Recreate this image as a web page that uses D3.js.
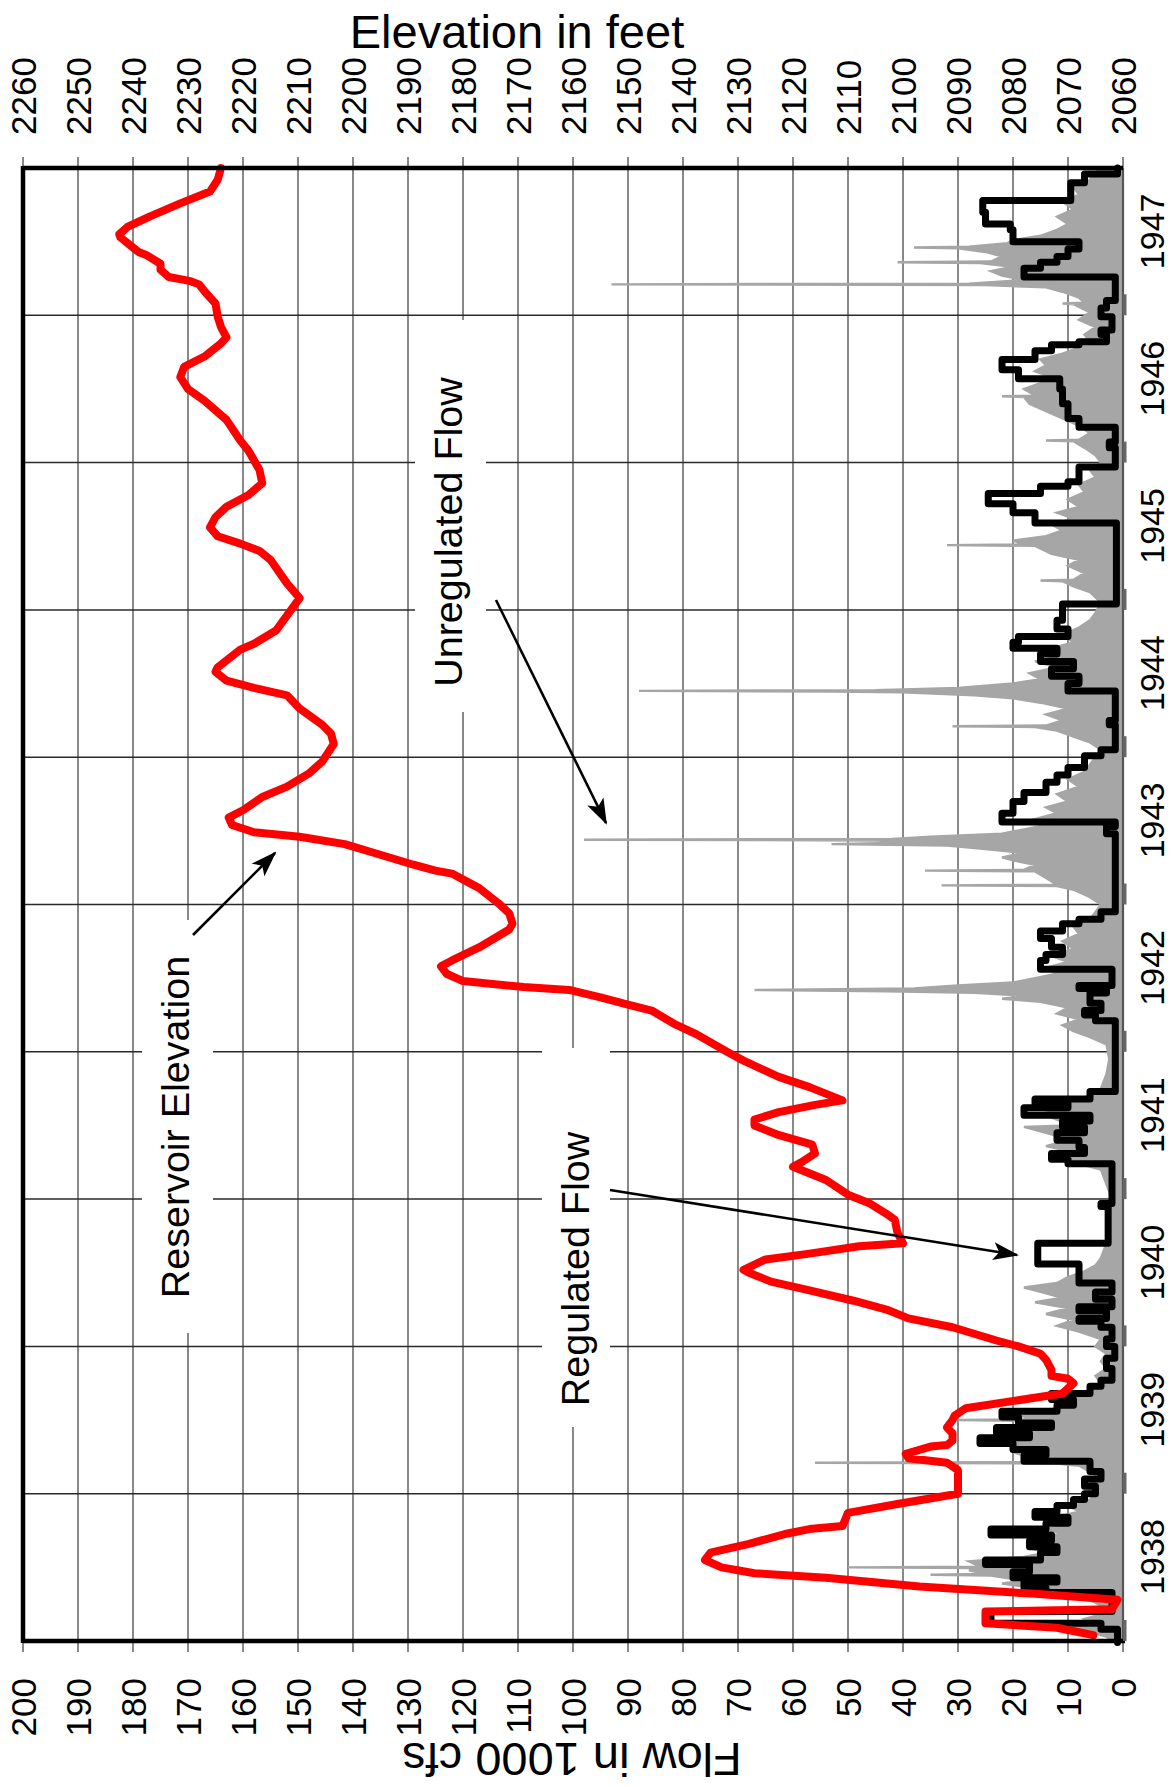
<!DOCTYPE html>
<html><head><meta charset="utf-8">
<script src="https://cdn.jsdelivr.net/npm/d3@7/dist/d3.min.js"></script>
<style>body{margin:0;background:#fff} text{font-family:"Liberation Sans",Arial,Helvetica,sans-serif;fill:#000}</style>
</head><body><svg id="c" width="1173" height="1787"></svg>
<script>
// ---------- data ----------
const years = [1938,1939,1940,1941,1942,1943,1944,1945,1946,1947];
const flowTicks = [0,10,20,30,40,50,60,70,80,90,100,110,120,130,140,150,160,170,180,190,200];
const elevTicks = [2060,2070,2080,2090,2100,2110,2120,2130,2140,2150,2160,2170,2180,2190,2200,2210,2220,2230,2240,2250,2260];

// Reservoir elevation (ft): [year, elevation]
const elevation = [
[1938.04,2065.4],[1938.09,2072],[1938.12,2085],[1938.20,2085],[1938.215,2062],[1938.28,2061],
[1938.32,2076],[1938.37,2097],[1938.43,2114],[1938.46,2127],[1938.50,2133],[1938.55,2136],
[1938.60,2135],[1938.66,2128],[1938.73,2121],[1938.76,2117],[1938.78,2111],[1938.87,2110],
[1938.93,2101],[1939.00,2090],[1939.16,2090],[1939.21,2092],[1939.24,2099],[1939.27,2099.5],
[1939.32,2095],[1939.33,2092],[1939.36,2091],[1939.41,2091],[1939.45,2092],[1939.50,2091],
[1939.53,2090.6],[1939.58,2088.6],[1939.68,2071],[1939.75,2069],[1939.78,2070],[1939.80,2073],
[1939.84,2073],[1939.91,2074],[1939.95,2075],[1940.00,2079],[1940.04,2083],[1940.13,2091],
[1940.19,2099],[1940.25,2103],[1940.31,2109],[1940.38,2117],[1940.44,2124],[1940.50,2128],
[1940.52,2129],[1940.59,2125],[1940.63,2117],[1940.68,2108],[1940.70,2100],[1940.77,2101],
[1940.86,2101.5],[1940.90,2103],[1940.97,2106],[1941.03,2110],[1941.13,2114],[1941.22,2120],
[1941.25,2118.5],[1941.31,2116],[1941.37,2116.5],[1941.44,2123],[1941.50,2127],[1941.54,2127],
[1941.59,2122.6],[1941.64,2116],[1941.67,2111],[1941.76,2117],[1941.83,2122.6],[1941.94,2129],
[1942.00,2132],[1942.12,2137.6],[1942.19,2141.6],[1942.28,2145.7],[1942.32,2150],[1942.37,2155],
[1942.42,2160.7],[1942.44,2169],[1942.48,2180],[1942.53,2183],[1942.58,2184],[1942.62,2182],
[1942.71,2177],[1942.83,2171.6],[1942.87,2171],[1942.94,2171.6],[1943.01,2173.6],[1943.11,2177],
[1943.13,2178],[1943.21,2182],[1943.23,2185],[1943.27,2189],[1943.36,2197],[1943.41,2201.5],
[1943.46,2209.7],[1943.49,2218],[1943.54,2222],[1943.59,2222.6],[1943.64,2220],[1943.73,2216.5],
[1943.80,2212],[1943.89,2208],[1943.97,2205.6],[1944.09,2203.5],[1944.16,2204],[1944.22,2205.6],
[1944.33,2209.7],[1944.42,2212],[1944.47,2218],[1944.52,2223],[1944.58,2225],[1944.61,2224.6],
[1944.73,2220.5],[1944.77,2218],[1944.86,2214],[1945.08,2209.7],[1945.18,2212],[1945.34,2215],
[1945.40,2217],[1945.45,2220.5],[1945.50,2224.6],[1945.56,2226],[1945.63,2225],[1945.70,2223],
[1945.78,2219],[1945.86,2216.5],[1945.95,2217],[1946.08,2219],[1946.15,2220.5],[1946.29,2223],
[1946.42,2227],[1946.50,2230],[1946.58,2231.4],[1946.65,2230.7],[1946.72,2227],[1946.81,2224],
[1946.85,2223],[1946.92,2224],[1946.99,2224.6],[1947.08,2225],[1947.15,2226.7],[1947.21,2228],
[1947.23,2229.4],[1947.24,2230.7],[1947.26,2233.5],[1947.31,2235],[1947.35,2235],[1947.41,2237.6],
[1947.43,2239],[1947.49,2241],[1947.53,2242.3],[1947.55,2242.5],[1947.60,2241],[1947.67,2237],
[1947.76,2231.4],[1947.84,2226],[1947.92,2224.6],[1948.00,2224]
];

// Regulated flow (1000 cfs): [year, flow]
const regulated = [
[1937.99,1],[1938.08,4],[1938.12,24],[1938.20,2],[1938.33,14],[1938.36,18],[1938.40,12],[1938.43,20],
[1938.47,17],[1938.52,25],[1938.55,15],[1938.60,12],[1938.64,17],[1938.68,13],[1938.72,24],[1938.76,14],
[1938.80,10],[1938.84,16],[1938.88,12],[1938.92,9],[1938.96,7],[1939.00,5],[1939.05,7],[1939.10,4],
[1939.15,6],[1939.22,18],[1939.26,14],[1939.30,20],[1939.34,26],[1939.38,17],[1939.41,23],[1939.45,13],
[1939.48,19],[1939.52,22],[1939.56,12],[1939.60,9],[1939.64,13],[1939.68,6],[1939.73,4],[1939.77,2],
[1939.85,3],[1939.92,1.5],[1940.00,3],[1940.05,2],[1940.13,4],[1940.17,8],[1940.19,3],[1940.24,8],
[1940.27,2],[1940.32,5],[1940.37,2],[1940.43,8],[1940.56,15.5],[1940.70,2.7],[1940.95,4],[1940.97,2],
[1941.24,10],[1941.27,13],[1941.31,7],[1941.35,8],[1941.40,12],[1941.45,7],[1941.49,11],[1941.53,6],
[1941.57,18],[1941.62,10],[1941.65,16],[1941.68,6],[1941.73,1.4],[1942.21,5],[1942.25,7],[1942.28,4],
[1942.33,6],[1942.40,3],[1942.43,8],[1942.45,2],[1942.56,15],[1942.62,14],[1942.66,11],[1942.71,13],
[1942.77,15],[1942.82,11],[1942.87,8],[1942.90,4],[1942.95,1.4],[1943.48,3],[1943.53,1.4],[1943.56,22],
[1943.62,20],[1943.70,18],[1943.76,14],[1943.83,12],[1943.88,10],[1943.93,7],[1944.01,4],[1944.05,1.4],
[1944.22,2.5],[1944.25,1.4],[1944.45,10],[1944.50,8],[1944.55,13],[1944.60,9],[1944.65,15],[1944.70,12],
[1944.74,20],[1944.78,19],[1944.82,10],[1944.87,12],[1944.93,11],[1945.04,1.2],[1945.59,16],[1945.66,20],
[1945.72,24.5],[1945.79,15],[1945.84,10],[1945.87,8],[1945.97,1.4],[1946.10,2.5],[1946.14,1.4],[1946.24,8],
[1946.30,10],[1946.40,11],[1946.50,11.5],[1946.57,19],[1946.63,22],[1946.70,16],[1946.76,13],[1946.80,8],
[1946.82,3],[1946.87,4],[1946.90,2],[1946.99,4],[1947.05,3],[1947.10,1.4],[1947.26,18],[1947.32,15],
[1947.36,12],[1947.40,10],[1947.45,8],[1947.50,20],[1947.58,20.5],[1947.62,25],[1947.70,25.5],[1947.78,9.5],
[1947.90,7],[1947.96,1],[1948.00,1]
];

// Unregulated flow (1000 cfs): [year, flow]
const unregulated = [
[1937.99,2],[1938.00,2],[1938.03,3],[1938.06,6],[1938.09,9],[1938.12,5],[1938.15,7],[1938.18,4],[1938.22,3],
[1938.26,5],[1938.30,8],[1938.33,12],[1938.36,16],[1938.39,22],[1938.41,18],[1938.445,24],[1938.45,35],
[1938.455,25],[1938.48,28],[1938.495,26],[1938.50,50],[1938.505,26],[1938.54,28],[1938.57,18],[1938.60,14],
[1938.63,17],[1938.66,12],[1938.70,16],[1938.73,11],[1938.76,14],[1938.80,9],[1938.84,12],[1938.88,8],
[1938.92,10],[1938.96,6],[1939.00,5],[1939.05,7],[1939.10,4],[1939.15,6],[1939.19,8],[1939.205,12],
[1939.21,56],[1939.215,14],[1939.24,16],[1939.28,20],[1939.31,14],[1939.35,24],[1939.38,16],[1939.42,22],
[1939.46,15],[1939.495,18],[1939.50,30],[1939.505,16],[1939.54,20],[1939.58,12],[1939.62,10],[1939.66,8],
[1939.70,6],[1939.75,4],[1939.80,5],[1939.85,3],[1939.90,4],[1939.95,3],[1940.00,5],[1940.05,4],[1940.10,8],
[1940.14,12],[1940.18,9],[1940.22,14],[1940.26,10],[1940.30,16],[1940.33,11],[1940.37,15],[1940.40,18],
[1940.43,12],[1940.47,10],[1940.51,7],[1940.55,5],[1940.60,4],[1940.70,3],[1940.80,2.5],[1940.90,3],
[1941.00,2],[1941.10,3],[1941.20,4],[1941.24,8],[1941.28,12],[1941.32,9],[1941.36,14],[1941.40,10],
[1941.44,13],[1941.49,18],[1941.50,10],[1941.54,12],[1941.58,15],[1941.62,9],[1941.66,11],[1941.70,6],
[1941.75,4],[1941.85,3],[1941.95,2.5],[1942.05,3],[1942.10,6],[1942.14,9],[1942.18,11],[1942.22,8],
[1942.26,12],[1942.30,10],[1942.34,15],[1942.36,22],[1942.38,17],[1942.40,27],[1942.41,43],[1942.42,67],
[1942.43,38],[1942.45,30],[1942.47,20],[1942.50,16],[1942.53,12],[1942.57,14],[1942.61,10],[1942.65,13],
[1942.70,9],[1942.75,11],[1942.80,8],[1942.85,9],[1942.90,6],[1942.95,5],[1943.00,4],[1943.05,6],
[1943.10,9],[1943.125,12],[1943.13,33],[1943.135,12],[1943.18,14],[1943.225,16],[1943.23,36],[1943.235,18],
[1943.27,16],[1943.30,20],[1943.32,22],[1943.35,18],[1943.38,26],[1943.40,32],[1943.41,53],[1943.42,40],
[1943.435,45],[1943.44,98],[1943.445,42],[1943.46,35],[1943.48,22],[1943.51,18],[1943.54,14],[1943.58,16],
[1943.62,12],[1943.66,14],[1943.70,10],[1943.75,12],[1943.80,8],[1943.85,10],[1943.90,7],[1943.95,6],
[1944.00,5],[1944.05,4],[1944.10,6],[1944.14,9],[1944.18,12],[1944.205,16],[1944.21,31],[1944.215,14],
[1944.25,11],[1944.29,14],[1944.33,10],[1944.37,15],[1944.40,20],[1944.42,27],[1944.44,40],[1944.445,53],
[1944.45,88],[1944.455,45],[1944.47,30],[1944.50,20],[1944.53,15],[1944.57,17],[1944.61,12],[1944.65,16],
[1944.69,11],[1944.73,14],[1944.78,9],[1944.83,11],[1944.88,8],[1944.93,6],[1944.98,5],[1945.05,4],
[1945.12,6],[1945.16,9],[1945.195,11],[1945.20,15],[1945.205,9],[1945.25,7],[1945.30,10],[1945.34,8],
[1945.38,13],[1945.435,16],[1945.44,32],[1945.445,18],[1945.47,20],[1945.50,14],[1945.54,11],[1945.58,13],
[1945.62,9],[1945.66,12],[1945.70,8],[1945.75,10],[1945.80,7],[1945.85,8],[1945.90,5],[1945.95,6],
[1946.00,4],[1946.05,5],[1946.10,7],[1946.145,9],[1946.15,14],[1946.155,8],[1946.20,6],[1946.25,8],
[1946.30,11],[1946.35,14],[1946.40,17],[1946.445,18],[1946.45,22],[1946.455,16],[1946.50,18],[1946.54,15],
[1946.58,13],[1946.62,16],[1946.66,14],[1946.70,15],[1946.74,11],[1946.78,8],[1946.82,6],[1946.87,7],
[1946.92,5],[1946.97,8],[1947.02,6],[1947.075,9],[1947.08,11],[1947.085,7],[1947.12,8],[1947.16,11],
[1947.19,14],[1947.205,25],[1947.21,93],[1947.215,28],[1947.24,18],[1947.27,22],[1947.30,24],[1947.33,20],
[1947.355,26],[1947.36,41],[1947.365,24],[1947.40,22],[1947.43,25],[1947.455,30],[1947.46,38],[1947.465,28],
[1947.49,21],[1947.51,20],[1947.54,15],[1947.58,12],[1947.62,10],[1947.67,12],[1947.72,9],[1947.77,11],
[1947.82,8],[1947.87,9],[1947.92,6],[1947.97,5],[1948.00,4]
];

// ---------- layout (chart drawn unrotated, then turned a quarter turn) ----------
const W = 1473, H = 1100;
const svg = d3.select("#c");
const x = d3.scaleLinear().domain([1938,1948]).range([0,W]);
const yF = d3.scaleLinear().domain([0,200]).range([H,0]);
const yE = d3.scaleLinear().domain([2060,2260]).range([H,0]);
const rot = "translate(23,1641) rotate(-90)";

svg.append("rect").attr("width",1173).attr("height",1787).attr("fill","#fff");

const gGrid = svg.append("g").attr("transform",rot);
gGrid.append("rect").attr("width",W).attr("height",H).attr("fill","#fff");
gGrid.selectAll("line.fg").data(flowTicks).join("line")
  .attr("x1",-11).attr("x2",W+11).attr("y1",d=>yF(d)).attr("y2",d=>yF(d))
  .attr("stroke","#4a4a4a").attr("stroke-width",1.3);
gGrid.selectAll("line.yg").data(years.slice(1)).join("line")
  .attr("x1",d=>x(d)).attr("x2",d=>x(d)).attr("y1",0).attr("y2",H)
  .attr("stroke","#2a2a2a").attr("stroke-width",1.5);

// annotation boxes (picture coordinates) hide gridlines
const boxes = [[142,920,71,413],[542,1048,68,379],[415,320,71,392]];
svg.selectAll("rect.box").data(boxes).join("rect")
  .attr("x",d=>d[0]).attr("y",d=>d[1]).attr("width",d=>d[2]).attr("height",d=>d[3]).attr("fill","#fff");

const gData = svg.append("g").attr("transform",rot);
const area = d3.area().x(d=>x(d[0])).y0(yF(0)).y1(d=>yF(d[1]));
gData.append("path").datum(unregulated).attr("d",area).attr("fill","#a6a6a6");
gData.append("path").datum(unregulated).attr("d",d3.line().x(d=>x(d[0])).y(d=>yF(d[1])))
  .attr("fill","none").attr("stroke","#a6a6a6").attr("stroke-width",2.4);
gData.append("path").datum(regulated)
  .attr("d",d3.line().curve(d3.curveStepAfter).x(d=>x(d[0])).y(d=>yF(d[1])))
  .attr("fill","none").attr("stroke","#000").attr("stroke-width",7)
  .attr("stroke-linejoin","round").attr("stroke-linecap","round");
gData.append("path").datum(elevation)
  .attr("d",d3.line().x(d=>x(d[0])).y(d=>yE(d[1])))
  .attr("fill","none").attr("stroke","#ff0000").attr("stroke-width",8)
  .attr("stroke-linejoin","round").attr("stroke-linecap","round");

// borders
const gB = svg.append("g").attr("transform",rot);
gB.append("line").attr("x1",0).attr("x2",W).attr("y1",H).attr("y2",H).attr("stroke","#555").attr("stroke-width",2.2);
gB.append("line").attr("x1",-2).attr("x2",W+2).attr("y1",0).attr("y2",0).attr("stroke","#000").attr("stroke-width",4.5);
gB.append("line").attr("x1",0).attr("x2",0).attr("y1",0).attr("y2",H+2).attr("stroke","#000").attr("stroke-width",4.5);
gB.append("line").attr("x1",W).attr("x2",W).attr("y1",0).attr("y2",H).attr("stroke","#000").attr("stroke-width",4.5);
gB.selectAll("rect.yt").data(years).join("rect")
  .attr("x",d=>x(d)).attr("y",H).attr("width",21).attr("height",3.5).attr("fill","#666");

// tick labels
gB.selectAll("text.fl").data(flowTicks).join("text")
  .attr("x",-37).attr("y",d=>yF(d)).attr("text-anchor","end").attr("dominant-baseline","central")
  .attr("font-size",35).text(d=>d);
gB.selectAll("text.el").data(elevTicks).join("text")
  .attr("x",W+33).attr("y",d=>yE(d)).attr("text-anchor","start").attr("dominant-baseline","central")
  .attr("font-size",35).text(d=>d);
gB.selectAll("text.yl").data(years).join("text")
  .attr("x",d=>x(d)+84).attr("y",H+41).attr("text-anchor","middle")
  .attr("font-size",34).text(d=>d);

// axis titles
svg.append("text").attr("x",517).attr("y",48).attr("text-anchor","middle").attr("font-size",47).text("Elevation in feet");
svg.append("text").attr("transform","translate(572,1743) rotate(180)").attr("text-anchor","middle").attr("font-size",47).text("Flow in 1000 cfs");

// annotations
const notes = [["Reservoir Elevation",189,1127],["Regulated Flow",589,1269],["Unregulated Flow",462,532]];
svg.selectAll("text.note").data(notes).join("text")
  .attr("transform",d=>`translate(${d[1]},${d[2]}) rotate(-90)`).attr("text-anchor","middle")
  .attr("font-size",39.5).text(d=>d[0]);

svg.append("defs").append("marker").attr("id","ah").attr("viewBox","0 0 26 18").attr("refX",24).attr("refY",9)
  .attr("markerWidth",26).attr("markerHeight",18).attr("markerUnits","userSpaceOnUse")
  .attr("orient","auto").append("path").attr("d","M0,0 L26,9 L0,18 L6,9 Z").attr("fill","#000");
const arrows = [[193,935,275,853],[610,1190,1017,1255],[496,600,606,823]];
svg.selectAll("line.arr").data(arrows).join("line")
  .attr("x1",d=>d[0]).attr("y1",d=>d[1]).attr("x2",d=>d[2]).attr("y2",d=>d[3])
  .attr("stroke","#000").attr("stroke-width",2.6).attr("marker-end","url(#ah)");
</script></body></html>
